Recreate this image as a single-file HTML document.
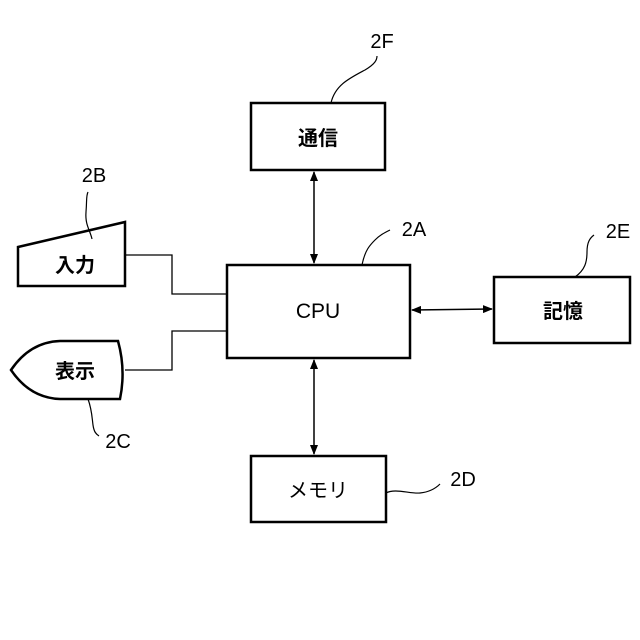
<!DOCTYPE html>
<html><head><meta charset="utf-8"><style>html,body{margin:0;padding:0;background:#fff}svg{display:block}</style></head>
<body>
<svg width="640" height="640" viewBox="0 0 640 640" xmlns="http://www.w3.org/2000/svg">
<defs>
<marker id="a" markerWidth="10" markerHeight="8" refX="9" refY="4" orient="auto-start-reverse" markerUnits="userSpaceOnUse">
<path d="M0,0 L10,4 L0,8 Z" fill="#000"/></marker>
</defs>
<g fill="none" stroke="#000">
<rect x="251" y="103" width="134" height="67" stroke-width="2.5"/>
<rect x="227" y="265" width="183" height="93" stroke-width="2.5"/>
<rect x="494" y="277" width="136" height="66" stroke-width="2.5"/>
<rect x="251" y="456" width="135" height="66" stroke-width="2.5"/>
<path d="M18,247 L125,222 L125,286 L18,286 Z" stroke-width="2.5"/>
<path d="M11,370 Q30,342 60,341 L118,341 Q126,370 120,399 L60,399 Q30,398 11,370 Z" stroke-width="2.5"/>
<path d="M125,255 H172 V294 H227" stroke-width="1.3"/>
<path d="M125,370 H172 V331 H227" stroke-width="1.3"/>
<line x1="314" y1="172" x2="314" y2="263" stroke-width="1.5" marker-start="url(#a)" marker-end="url(#a)"/>
<line x1="314" y1="360" x2="314" y2="454" stroke-width="1.5" marker-start="url(#a)" marker-end="url(#a)"/>
<line x1="412" y1="310" x2="492" y2="309" stroke-width="1.5" marker-start="url(#a)" marker-end="url(#a)"/>
<path d="M331,103 C335,85 350,78 365,70 C375,64 377,60 377,56" stroke-width="1.2"/>
<path d="M92,239 C90,230 85,225 86,212 C87,200 86,196 88,192" stroke-width="1.2"/>
<path d="M362,265 C365,250 370,245 375,240 C380,235 384,233 390,230" stroke-width="1.2"/>
<path d="M575,277 C585,270 587,262 587,252 C587,242 590,238 594,235" stroke-width="1.2"/>
<path d="M88,399 C92,410 92,418 93,425 C94,432 96,434 99,436" stroke-width="1.2"/>
<path d="M386,493 C395,488 410,494 420,493 C430,492 436,488 440,484" stroke-width="1.2"/>
</g>
<g font-family="'Liberation Sans','Noto Sans CJK JP',sans-serif" font-size="20" text-anchor="middle" fill="#000">
<text x="318" y="145" font-weight="bold">通信</text>
<text x="318" y="318" font-size="21">CPU</text>
<text x="563" y="318" font-weight="bold">記憶</text>
<text x="318" y="497">メモリ</text>
<text x="75" y="272" font-weight="bold">入力</text>
<text x="75" y="378" font-weight="bold">表示</text>
<text x="382" y="48">2F</text>
<text x="94" y="182">2B</text>
<text x="414" y="236">2A</text>
<text x="618" y="238">2E</text>
<text x="118" y="448">2C</text>
<text x="463" y="486">2D</text>
</g>
</svg>
</body></html>
